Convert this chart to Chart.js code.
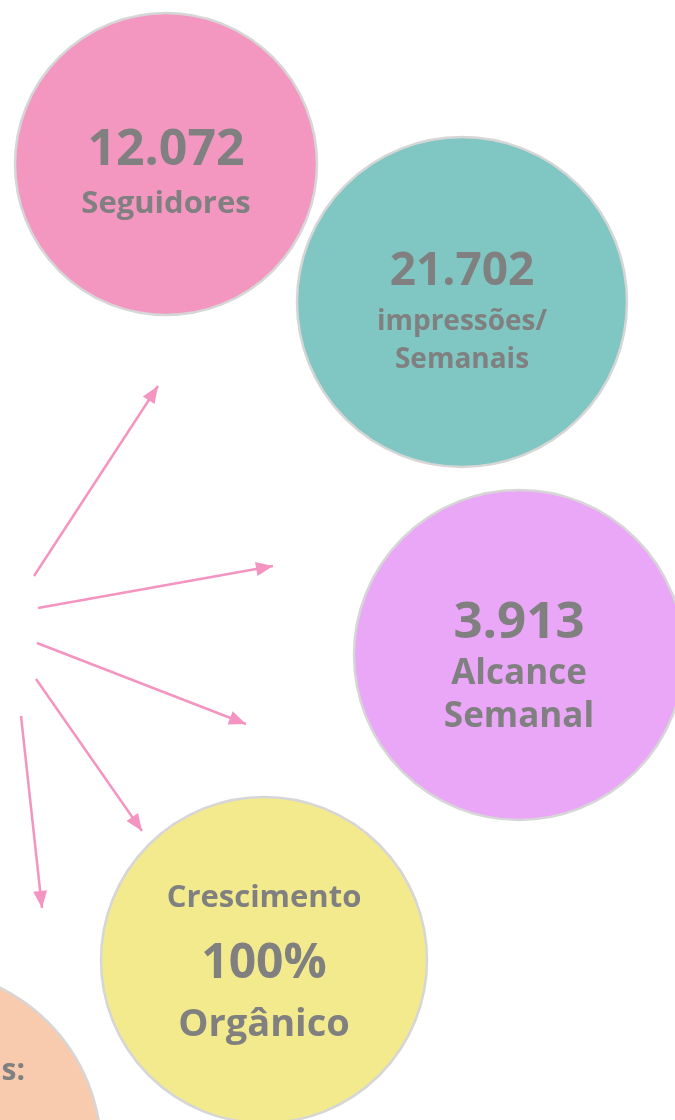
<!DOCTYPE html>
<html>
<head>
<meta charset="utf-8">
<script src="https://cdn.jsdelivr.net/npm/chart.js@4.4.1/dist/chart.umd.min.js"></script>
<style>
  html, body { margin: 0; padding: 0; background: #ffffff; }
  #wrap { width: 675px; height: 1120px; position: relative; }
</style>
</head>
<body>
<div id="wrap"><canvas id="myChart"></canvas></div>
<script>
// circles (bubbles) - positions in the 675 x 1120 layout units
const bubbleX = [166, 462, 519, 264, -80];
const bubbleY = [164, 302, 655, 960, 1150];
const bubbleR = [151, 165, 165, 163, 181];
const bubbleColors = ["#F497C0", "#80C6C2", "#EAA6F7", "#F3EA8D", "#F8CBAE"];

// texts inside each circle, line by line
const bubbleText = [
  ["12.072", "Seguidores"],
  ["21.702", "impressões/", "Semanais"],
  ["3.913", "Alcance", "Semanal"],
  ["Crescimento", "100%", "Orgânico"],
  ["s:"],
];

// arrows: start and tip
const arrowFrom = [[34, 576], [38, 608], [37, 643], [36, 679], [21, 716]];
const arrowTo = [[158, 386], [273, 566], [246, 724], [142, 831], [42, 908]];

// font size + baseline offset (from circle centre) for each text line
const textStyle = [
  [[50, 1], [31, 49]],
  [[46, -17], [28, 28], [28, 66]],
  [[51, -17], [35, 29], [35, 72]],
  [[31, -53], [48, 18], [38, 76]],
  [[30, -70]],
];

const ctx = document.getElementById("myChart");

const datasets = [
  {
    type: "bubble",
    data: bubbleX.map((x, i) => ({ x: x, y: bubbleY[i], r: bubbleR[i] })),
    backgroundColor: bubbleColors,
    borderColor: "#D6D6D6",
    borderWidth: 2.5,
    clip: false,
    order: 2,
  },
];

arrowFrom.forEach((p, i) => {
  datasets.push({
    type: "scatter",
    data: [
      { x: p[0], y: p[1] },
      { x: arrowTo[i][0], y: arrowTo[i][1] },
    ],
    showLine: true,
    borderColor: "#F395C0",
    borderWidth: 2.5,
    pointRadius: 0,
    clip: false,
    order: 1,
  });
});

// arrow heads at the end of each line dataset
const arrowHeads = {
  id: "arrowHeads",
  afterDatasetsDraw(chart) {
    const { ctx } = chart;
    ctx.save();
    ctx.fillStyle = "#F395C0";
    for (let i = 1; i < chart.data.datasets.length; i++) {
      const pts = chart.getDatasetMeta(i).data;
      const a = pts[0], b = pts[1];
      const ang = Math.atan2(b.y - a.y, b.x - a.x);
      const len = 17, half = 7;
      ctx.beginPath();
      ctx.moveTo(b.x, b.y);
      ctx.lineTo(b.x - len * Math.cos(ang) + half * Math.sin(ang), b.y - len * Math.sin(ang) - half * Math.cos(ang));
      ctx.lineTo(b.x - len * Math.cos(ang) - half * Math.sin(ang), b.y - len * Math.sin(ang) + half * Math.cos(ang));
      ctx.closePath();
      ctx.fill();
    }
    ctx.restore();
  },
};

// text inside circles
const bubbleLabels = {
  id: "bubbleLabels",
  afterDatasetsDraw(chart) {
    const { ctx } = chart;
    const meta = chart.getDatasetMeta(0);
    ctx.save();
    ctx.fillStyle = "#808080";
    ctx.textBaseline = "alphabetic";
    meta.data.forEach((pt, i) => {
      bubbleText[i].forEach((line, j) => {
        const st = textStyle[i][j];
        ctx.font = `bold ${st[0]}px "Open Sans", sans-serif`;
        if (i == 4) {
          ctx.textAlign = "right";
          ctx.fillText(line, 25, pt.y + st[1]);
        } else {
          ctx.textAlign = "center";
          ctx.fillText(line, pt.x, pt.y + st[1]);
        }
      });
    });
    ctx.restore();
  },
};

var myChart = new Chart(ctx, {
  data: { datasets: datasets },
  options: {
    responsive: true,
    maintainAspectRatio: false,
    animation: false,
    events: [],
    layout: { padding: 0, autoPadding: false },
    scales: {
      x: { type: "linear", min: 0, max: 675, display: false },
      y: { type: "linear", min: 0, max: 1120, reverse: true, display: false },
    },
    plugins: {
      legend: { display: false },
      tooltip: { enabled: false },
    },
  },
  plugins: [arrowHeads, bubbleLabels],
});
</script>
</body>
</html>
